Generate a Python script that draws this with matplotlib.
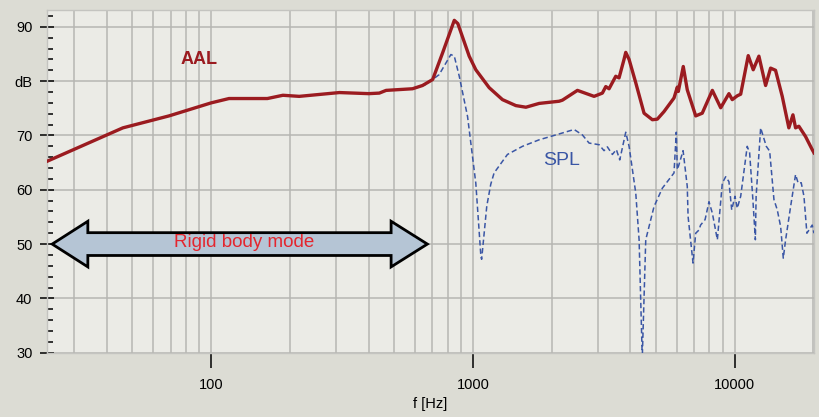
#!/usr/bin/env python
# -*- coding: utf-8 -*-
"""
AAL / SPL frequency response with the rigid-body-mode band marked.
Writes out.png (819x417).
"""

import matplotlib
matplotlib.use("Agg")
import matplotlib.pyplot as plt
from matplotlib.patches import Polygon
from matplotlib.ticker import FixedLocator, MultipleLocator, LogLocator, NullFormatter
import numpy as np

plt.rcParams["font.family"] = ["Liberation Sans", "DejaVu Sans"]

# ---------------------------------------------------------------------------
# Data
# ---------------------------------------------------------------------------
aal_freq = [23.5, 46, 69, 100, 117, 164, 188, 217, 309, 400, 439, 466, 588,
            642, 702, 766, 849, 876, 968, 1026, 1154, 1297, 1459, 1594, 1791,
            2135, 2198, 2508, 2904, 3124, 3219, 3313, 3514, 3617, 3779, 3837,
            3951, 4190, 4507, 4849, 5065, 5373, 5866, 6039, 6093, 6364, 6592,
            7100, 7520, 8219, 8846, 9510, 9792, 10233, 10546, 11270, 11775,
            12380, 13130, 13720, 14330, 15200, 16110, 16700, 17090, 17590,
            18660, 19780, 20100]
aal_db = [65.2, 71.4, 73.6, 76.0, 76.8, 76.8, 77.4, 77.2, 77.9, 77.7, 77.8,
          78.3, 78.6, 79.2, 80.3, 85.2, 91.2, 90.6, 84.6, 82.1, 78.8, 76.6,
          75.5, 75.2, 75.9, 76.3, 76.5, 78.3, 77.2, 77.8, 79.0, 78.6, 80.9,
          80.6, 84.0, 85.3, 84.0, 79.7, 74.1, 72.9, 73.0, 74.4, 76.9, 78.9,
          78.1, 82.7, 78.4, 73.6, 74.1, 78.3, 75.1, 77.7, 76.6, 77.3, 77.6,
          84.7, 82.1, 84.6, 79.2, 82.4, 82.0, 77.2, 71.4, 73.8, 71.4, 71.7,
          69.8, 67.4, 66.8]

spl_freq = [588, 662, 743, 824, 849, 887, 954, 1026, 1073, 1080, 1130, 1170,
            1205, 1355, 1547, 1791, 2075, 2436, 2620, 2779, 3034, 3170, 3264,
            3411, 3533, 3640, 3837, 3951, 4190, 4315, 4437, 4575, 4920, 5295,
            5866, 5985, 6039, 6125, 6354, 6592, 6639, 6934, 7100, 7310, 7410,
            7710, 7980, 8219, 8590, 8970, 9240, 9510, 9745, 10030, 10233,
            10546, 11170, 11410, 11740, 12000, 12080, 12570, 13210, 13610,
            14130, 14550, 14990, 15340, 15660, 16360, 17090, 17490, 17960,
            18400, 18880, 19780, 20100]
spl_db = [78.6, 79.4, 81.2, 84.9, 84.6, 80.9, 73.5, 61.2, 47.7, 47.2, 57.0,
          61.0, 63.1, 66.5, 68.0, 69.2, 70.1, 71.1, 70.1, 68.6, 68.3, 67.2,
          67.9, 66.5, 67.4, 65.5, 70.6, 68.0, 59.4, 50.8, 29.0, 50.8, 56.9,
          60.3, 63.1, 70.6, 63.7, 64.6, 67.2, 60.6, 55.1, 46.5, 52.0, 52.6,
          53.5, 54.5, 57.8, 55.7, 50.8, 61.2, 62.4, 61.5, 56.3, 58.8, 56.6,
          58.8, 68.0, 66.8, 58.2, 50.8, 58.8, 71.4, 68.0, 67.1, 58.2, 56.3,
          53.2, 47.4, 50.8, 56.9, 62.8, 61.2, 61.3, 58.8, 52.0, 53.5, 52.0]

y_ticks = [30, 40, 50, 60, 70, 80, 90]
y_tick_labels = ["30", "40", "50", "60", "70", "dB", "90"]
x_ticks = [100, 1000, 10000]
x_tick_labels = ["100", "1000", "10000"]

# rigid body band: arrow tips / head bases (Hz) and level (dB)
band_tips = (24.7, 670)
band_heads = (33.8, 487)
band_level = 50

FIG_BG = "#dcdcd4"
AX_BG = "#ebebe6"
GRID = "#b6b6b2"
AAL_COLOR = "#9b1b20"
SPL_COLOR = "#3a56a5"


def block_arrow(ax, tips, heads, level, body_h=2.1, head_h=4.2):
    """Double-headed block arrow in data coordinates."""
    x0, x1 = tips
    h0, h1 = heads
    verts = [
        (x0, level),
        (h0, level + head_h), (h0, level + body_h),
        (h1, level + body_h), (h1, level + head_h),
        (x1, level),
        (h1, level - head_h), (h1, level - body_h),
        (h0, level - body_h), (h0, level - head_h),
    ]
    ax.add_patch(Polygon(verts, closed=True, facecolor="#b5c5d5",
                         edgecolor="black", linewidth=2.0, zorder=4,
                         joinstyle="miter"))


fig = plt.figure(figsize=(8.19, 4.17), dpi=100, facecolor=FIG_BG)
ax = fig.add_axes([0.0568, 0.1542, 0.9371, 0.8218])
ax.set_facecolor(AX_BG)

ax.plot(spl_freq, spl_db, color=SPL_COLOR, lw=1.1, ls=(0, (3.5, 2.0)), zorder=3)
ax.plot(aal_freq, aal_db, color=AAL_COLOR, lw=2.4, zorder=3,
        solid_joinstyle="round")

ax.set_xscale("log")
ax.set_xlim(23.5, 20100)
ax.set_ylim(30, 93.1)

ax.xaxis.set_major_locator(FixedLocator(x_ticks))
ax.set_xticklabels(x_tick_labels)
ax.xaxis.set_minor_locator(LogLocator(base=10, subs=np.arange(2, 10)))
ax.xaxis.set_minor_formatter(NullFormatter())
ax.tick_params(axis="x", which="major", direction="out", length=11,
               width=1.1, color="black", pad=7, labelsize=10.5)
ax.tick_params(axis="x", which="minor", length=0)

ax.yaxis.set_major_locator(FixedLocator(y_ticks))
ax.set_yticklabels(y_tick_labels)
ax.yaxis.set_minor_locator(MultipleLocator(2))
ax.tick_params(axis="y", which="major", direction="inout", length=9.4,
               width=1.1, color="black", pad=5.5, labelsize=10.5)
ax.tick_params(axis="y", which="minor", direction="in", length=4.3,
               width=1.1, color="black")

ax.grid(True, which="both", axis="x", color=GRID, lw=1.1)
ax.grid(True, which="major", axis="y", color=GRID, lw=1.1)
ax.set_axisbelow(True)

for s in ax.spines.values():
    s.set_color("#c4c4c0")
    s.set_linewidth(1.0)

ax.set_xlabel("f [Hz]", fontsize=10.5, labelpad=4)

block_arrow(ax, band_tips, band_heads, band_level)
ax.text(134, 50.2, "Rigid body mode", color="#e4262e", fontsize=13.5,
        ha="center", va="center", zorder=5)
ax.text(90, 84.0, "AAL", color=AAL_COLOR, fontsize=13, fontweight="bold",
        ha="center", va="center")
ax.text(2173, 65.3, "SPL", color=SPL_COLOR, fontsize=14,
        ha="center", va="center")

fig.savefig("out.png", dpi=100, facecolor=FIG_BG)
